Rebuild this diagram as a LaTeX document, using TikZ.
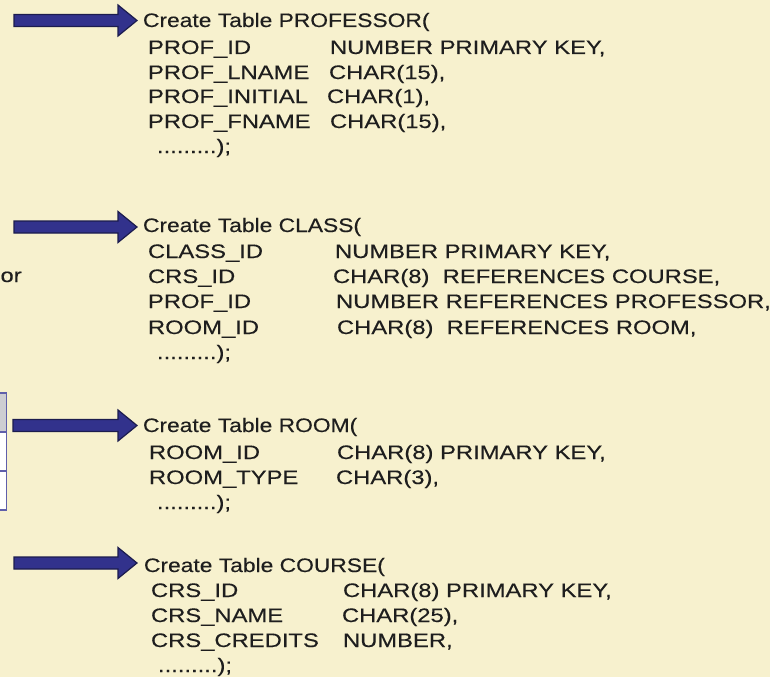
\documentclass[tikz,border=0pt]{standalone}
\usepackage{fontspec}
\setmainfont{Liberation Sans}[FakeStretch=1.17, FakeBold=0.3]
\newfontfamily\rowfont{Liberation Sans}[FakeStretch=1.22, FakeBold=0.3]
\usetikzlibrary{calc}

\definecolor{paper}{RGB}{247,241,206}
\definecolor{ink}{RGB}{30,30,30}
\definecolor{arrowfill}{RGB}{50,50,140}
\definecolor{arrowedge}{RGB}{28,28,78}
\definecolor{gridline}{RGB}{95,95,170}
\definecolor{headfill}{RGB}{205,205,210}

\tikzset{
  sql/.style={anchor=base west, inner sep=0pt, outer sep=0pt, text=ink,
              font=\rowfont\fontsize{19.5}{21}\selectfont},
  sqlhead/.style={sql, font=\fontsize{19.5}{21}\selectfont},
  ddlarrowstyle/.style={fill=arrowfill, draw=arrowedge, line width=1.2pt, line join=miter},
}

% block arrow from a tail coordinate to a tip coordinate (same height)
\newcommand{\ddlarrow}[2]{%
  \filldraw[ddlarrowstyle] ($(#1)+(0,-6)$) -- ($(#2)+(-19,-6)$) -- ($(#2)+(-19,-15.5)$)
    -- (#2) -- ($(#2)+(-19,15.5)$) -- ($(#2)+(-19,6)$) -- ($(#1)+(0,6)$) -- cycle;}

\begin{document}
\begin{tikzpicture}[x=1pt,y=-1pt]
\useasboundingbox (0,0) rectangle (770,677);
\clip (0,0) rectangle (770,677);
\fill[paper] (0,0) rectangle (770,677);

% partial table at the left edge
\fill[headfill] (-10,393) rectangle (6.5,432);
\fill[white] (-10,432) rectangle (6.5,510);
\draw[gridline, line width=1.8pt] (-10,393) rectangle (6.5,510);
\draw[gridline, line width=1.5pt] (-10,432) -- (6.5,432);
\draw[gridline, line width=1.5pt] (-10,471) -- (6.5,471);
\node[sql] (orlabel) at (0.5,282) {or};

% PROFESSOR
\node[sqlhead] (hdrP) at (143,27) {Create Table PROFESSOR(};
\node[sql] (p1n) at (148,54)  {PROF\_ID};
\node[sql] (p1t) at (330,54)  {NUMBER PRIMARY KEY,};
\node[sql] (p2n) at (148,79)  {PROF\_LNAME};
\node[sql] (p2t) at (329,79)  {CHAR(15),};
\node[sql] (p3n) at (148,103) {PROF\_INITIAL};
\node[sql] (p3t) at (327,103) {CHAR(1),};
\node[sql] (p4n) at (148,128) {PROF\_FNAME};
\node[sql] (p4t) at (330,128) {CHAR(15),};
\node[sql] (pend) at (157,153) {.........);};

% CLASS
\node[sqlhead] (hdrC) at (143,232) {Create Table CLASS(};
\node[sql] (c1n) at (148,258) {CLASS\_ID};
\node[sql] (c1t) at (335,258) {NUMBER PRIMARY KEY,};
\node[sql] (c2n) at (148,283) {CRS\_ID};
\node[sql] (c2t) at (333,283) {CHAR(8)\ \ REFERENCES COURSE,};
\node[sql] (c3n) at (148,308) {PROF\_ID};
\node[sql] (c3t) at (336,308) {NUMBER REFERENCES PROFESSOR,};
\node[sql] (c4n) at (148,334) {ROOM\_ID};
\node[sql] (c4t) at (337,334) {CHAR(8)\ \ REFERENCES ROOM,};
\node[sql] (cend) at (157,359) {.........);};

% ROOM
\node[sqlhead] (hdrR) at (143,432) {Create Table ROOM(};
\node[sql] (r1n) at (149,459) {ROOM\_ID};
\node[sql] (r1t) at (337,459) {CHAR(8) PRIMARY KEY,};
\node[sql] (r2n) at (149,484) {ROOM\_TYPE};
\node[sql] (r2t) at (336,484) {CHAR(3),};
\node[sql] (rend) at (157,509) {.........);};

% COURSE
\node[sqlhead] (hdrS) at (144,572) {Create Table COURSE(};
\node[sql] (s1n) at (151,597) {CRS\_ID};
\node[sql] (s1t) at (343,597) {CHAR(8) PRIMARY KEY,};
\node[sql] (s2n) at (151,622) {CRS\_NAME};
\node[sql] (s2t) at (342,622) {CHAR(25),};
\node[sql] (s3n) at (151,647) {CRS\_CREDITS};
\node[sql] (s3t) at (343,647) {NUMBER,};
\node[sql] (send) at (158,672) {.........);};

% arrows pointing at each table definition
\coordinate (tailP) at (14,20.5);  \coordinate (tipP) at (137,20.5);
\coordinate (tailC) at (14,227);   \coordinate (tipC) at (137,227);
\coordinate (tailR) at (13,425.5); \coordinate (tipR) at (137,425.5);
\coordinate (tailS) at (14,563);   \coordinate (tipS) at (137,563);
\ddlarrow{tailP}{tipP}
\ddlarrow{tailC}{tipC}
\ddlarrow{tailR}{tipR}
\ddlarrow{tailS}{tipS}
\end{tikzpicture}
\end{document}
